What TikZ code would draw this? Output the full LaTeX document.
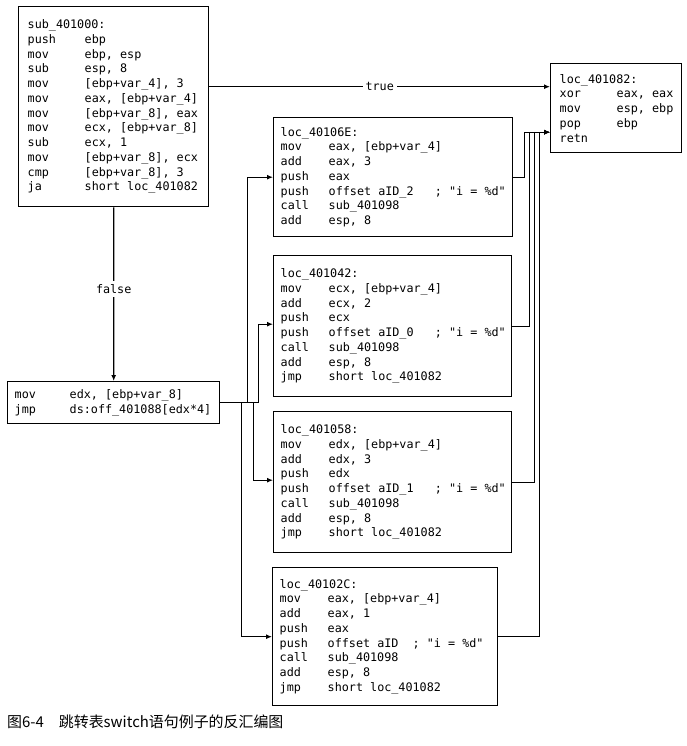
\documentclass[tikz,border=0pt]{standalone}
\usepackage{fontspec}
\setmonofont{DejaVu Sans Mono}
\newfontfamily\cjkfont{Noto Sans CJK SC}
\usetikzlibrary{arrows.meta,positioning,calc}

% width of the mnemonic column
\newlength\mnw
\newcommand\ins[2]{\mbox{\makebox[\mnw][l]{#1}#2}}

\begin{document}
\begin{tikzpicture}[x=1bp, y=-1bp,
  code/.style={draw, line width=1.4bp, anchor=north west, align=left,
    inner xsep=7bp, inner ysep=0pt,
    font=\ttfamily\fontsize{11.8}{14.8}\selectfont},
  col/.style={execute at begin node={\setlength{\mnw}{#1}%
    \spaceskip=7.1bp\relax\xspaceskip=7.1bp\relax}},
  link/.style={line width=1.3bp, -{Latex[length=6bp,width=5bp]}},
  lbl/.style={fill=white, inner sep=3bp, font=\ttfamily\fontsize{11.8}{14.8}\selectfont}]
  \useasboundingbox (0,0) rectangle (687,746);

  % Entry block
  \node[code, col=57bp, inner xsep=9bp, text width=172bp, minimum height=200bp] (sub) at (18,6)
    {sub\_401000:\\
     \ins{push}{ebp}\\
     \ins{mov}{ebp, esp}\\
     \ins{sub}{esp, 8}\\
     \ins{mov}{[ebp+var\_4], 3}\\
     \ins{mov}{eax, [ebp+var\_4]}\\
     \ins{mov}{[ebp+var\_8], eax}\\
     \ins{mov}{ecx, [ebp+var\_8]}\\
     \ins{sub}{ecx, 1}\\
     \ins{mov}{[ebp+var\_8], ecx}\\
     \ins{cmp}{[ebp+var\_8], 3}\\
     \ins{ja}{short loc\_401082}};

  % Exit block
  \node[code, col=57bp, inner xsep=9bp, text width=113bp, minimum height=89bp] (ret) at (550,63)
    {loc\_401082:\\
     \ins{xor}{eax, eax}\\
     \ins{mov}{esp, ebp}\\
     \ins{pop}{ebp}\\
     retn};

  % Jump table dispatch
  \node[code, col=55bp, text width=198bp, minimum height=42bp] (disp) at (7,381)
    {\ins{mov}{edx, [ebp+var\_8]}\\
     \ins{jmp}{ds:off\_401088[edx*4]}};

  % The four cases
  \node[code, col=48bp, text width=225bp, minimum height=119bp] (l6e) at (273,117)
    {loc\_40106E:\\
     \ins{mov}{eax, [ebp+var\_4]}\\
     \ins{add}{eax, 3}\\
     \ins{push}{eax}\\
     \ins{push}{offset aID\_2~~~; "i = \%d"}\\
     \ins{call}{sub\_401098}\\
     \ins{add}{esp, 8}};
  \node[code, col=48bp, text width=224bp, minimum height=141bp] (l42) at (273,255)
    {loc\_401042:\\
     \ins{mov}{ecx, [ebp+var\_4]}\\
     \ins{add}{ecx, 2}\\
     \ins{push}{ecx}\\
     \ins{push}{offset aID\_0~~~; "i = \%d"}\\
     \ins{call}{sub\_401098}\\
     \ins{add}{esp, 8}\\
     \ins{jmp}{short loc\_401082}};
  \node[code, col=48bp, text width=224bp, minimum height=141bp] (l58) at (273,411)
    {loc\_401058:\\
     \ins{mov}{edx, [ebp+var\_4]}\\
     \ins{add}{edx, 3}\\
     \ins{push}{edx}\\
     \ins{push}{offset aID\_1~~~; "i = \%d"}\\
     \ins{call}{sub\_401098}\\
     \ins{add}{esp, 8}\\
     \ins{jmp}{short loc\_401082}};
  \node[code, col=48bp, text width=211bp, minimum height=138bp] (l2c) at (272,567)
    {loc\_40102C:\\
     \ins{mov}{eax, [ebp+var\_4]}\\
     \ins{add}{eax, 1}\\
     \ins{push}{eax}\\
     \ins{push}{offset aID~~; "i = \%d"}\\
     \ins{call}{sub\_401098}\\
     \ins{add}{esp, 8}\\
     \ins{jmp}{short loc\_401082}};

  % Branches out of the entry block
  \draw[link] ([yshift=20bp]sub.east) -- ([yshift=20bp]sub.east -| ret.west)
    node[lbl, midway] {true};
  \draw[link] (sub) -- (disp) node[lbl, pos=0.47] {false};

  % Jump table targets
  \draw[link] (disp.east) -- ++(27,0) |- (l6e.west);
  \draw[link] (disp.east) -- ++(38,0) |- ([yshift=2bp]l42.west);
  \draw[link] (disp.east) -- ++(33,0) |- ([yshift=2bp]l58.west);
  \draw[link] (disp.east) -- ++(21,0) |- (l2c.west);

  % All cases fall through to the exit block
  \coordinate (join) at ([yshift=-24bp]ret.west);
  \draw[link] (l6e.east) -- ++(11,0) |- (join);
  \draw[link] (l42.east) -- ++(17,0) |- (join);
  \draw[link] (l58.east) -- ++(22,0) |- (join);
  \draw[link] (l2c.east) -- ++(41,0) |- (join);

  % Caption
  \node[anchor=west, inner sep=0pt, font=\cjkfont\fontsize{15}{17}\selectfont] (cap) at (7,722)
    {图6-4\hspace{15bp}跳转表switch语句例子的反汇编图};
\end{tikzpicture}
\end{document}
